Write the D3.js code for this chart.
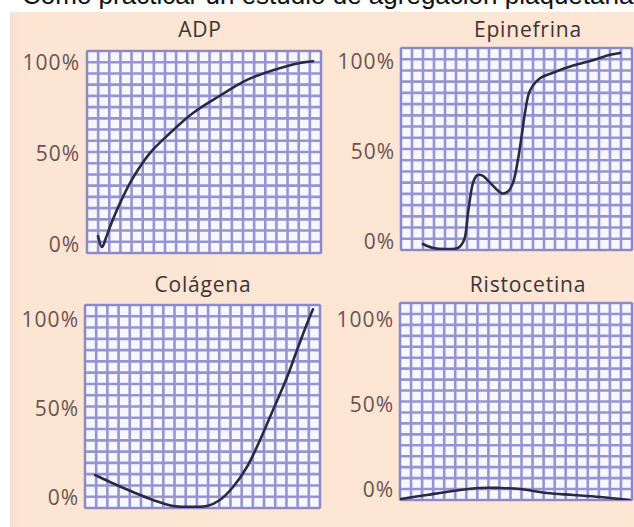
<!DOCTYPE html>
<html>
<head>
<meta charset="utf-8">
<script src="https://cdn.jsdelivr.net/npm/d3@7/dist/d3.min.js"></script>
<style>
  html, body { margin: 0; padding: 0; background: #ffffff; }
  svg { display: block; }
</style>
</head>
<body>
<svg id="chart" width="634" height="527"></svg>
<script>
// ---- data ----
const titles = ["ADP", "Epinefrina", "Colágena", "Ristocetina"];
const yTickValues = [0, 50, 100];
const yTickLabels = ["0%", "50%", "100%"];
const headerText = "Cómo practicar un estudio de agregación plaquetaria";

// x: position along the trace (0-100 of the paper width), y: aggregation %
const adpX = [4.7, 6.4, 8.1, 9.8, 14.1, 19.7, 26.9, 35.5, 45.3, 56.8, 68.4, 79.5, 91.0, 96.6];
const adpY = [4.9, -1.1, 3.8, 9.9, 23.0, 37.0, 50.5, 61.5, 72.5, 82.0, 90.7, 96.0, 100.0, 101.0];

const epiX = [9.5, 13.9, 19.9, 24.7, 27.3, 29.0, 31.2, 32.9, 35.1, 38.5, 43.7, 46.3, 48.5, 50.6, 52.4, 53.7, 55.8, 60.2, 65.8, 74.5, 83.1, 90.5, 94.8];
const epiY = [-1.1, -3.3, -3.9, -3.3, 1.1, 16.0, 33.0, 37.0, 37.0, 33.0, 27.0, 28.0, 33.0, 45.5, 60.5, 72.0, 84.0, 91.0, 94.0, 98.0, 101.0, 104.0, 105.0];

const colX = [4.3, 10.6, 20.4, 28.9, 37.4, 46.0, 51.9, 57.4, 63.0, 68.9, 74.5, 80.0, 86.0, 90.2, 94.5, 97.0];
const colY = [12.9, 9.0, 3.4, -1.1, -4.5, -4.9, -4.5, -1.1, 6.2, 17.4, 32.6, 49.4, 68.0, 83.0, 98.0, 106.0];

const risX = [0.4, 11.6, 22.8, 34.5, 43.1, 51.7, 63.4, 74.6, 86.2, 99.0];
const risY = [-5.3, -2.9, -0.6, 1.2, 1.2, 0.6, -1.8, -2.9, -4.1, -5.9];

const seriesX = [adpX, epiX, colX, risX];
const seriesY = [adpY, epiY, colY, risY];

// ---- layout ----
const panels = [
  { left: 87,  right: 321, top: 51,  bottom: 253, y0: 245, y100: 63,  tx: 200, ty: 37,  lx: 80 },
  { left: 401, right: 632, top: 48,  bottom: 250, y0: 242, y100: 62,  tx: 528, ty: 37,  lx: 395 },
  { left: 85,  right: 320, top: 305, bottom: 508, y0: 498, y100: 320, tx: 203, ty: 292, lx: 79 },
  { left: 400, right: 632, top: 303, bottom: 500, y0: 490, y100: 320, tx: 528, ty: 292, lx: 394 }
];
const COLS = 21, ROWS = 18;

const svg = d3.select("#chart");

// header line (cut off at top of the scan, as in the reference)
svg.append("text")
  .attr("x", 22).attr("y", 4)
  .attr("font-family", "Liberation Sans, Arial, sans-serif")
  .attr("font-size", 26)
  .attr("fill", "#111")
  .text(headerText);

// peach background
const defs = svg.append("defs");
const grad = defs.append("linearGradient").attr("id", "edge").attr("x1", "0").attr("x2", "1");
grad.append("stop").attr("offset", "0").attr("stop-color", "#f6e0cf");
grad.append("stop").attr("offset", "0.02").attr("stop-color", "#fde5d3");
grad.append("stop").attr("offset", "1").attr("stop-color", "#fde6d4");
svg.append("rect").attr("x", 10).attr("y", 12).attr("width", 624).attr("height", 515).attr("fill", "url(#edge)");

panels.forEach((p, i) => {
  const g = svg.append("g");
  const w = p.right - p.left, h = p.bottom - p.top;

  const x = d3.scaleLinear().domain([0, 100]).range([p.left, p.right]);
  const y = d3.scaleLinear().domain([0, 100]).range([p.y0, p.y100]);

  // graph paper
  g.append("rect").attr("x", p.left).attr("y", p.top).attr("width", w).attr("height", h).attr("fill", "#f7f7ff");
  const cw = w / COLS, ch = h / ROWS;
  g.selectAll("line.v").data(d3.range(COLS + 1)).join("line")
    .attr("x1", k => p.left + k * cw).attr("x2", k => p.left + k * cw)
    .attr("y1", p.top).attr("y2", p.bottom)
    .attr("stroke", "#9793d1")
    .attr("stroke-width", 2.6);
  g.selectAll("line.h").data(d3.range(ROWS + 1)).join("line")
    .attr("y1", k => p.top + k * ch).attr("y2", k => p.top + k * ch)
    .attr("x1", p.left).attr("x2", p.right)
    .attr("stroke", "#9793d1")
    .attr("stroke-width", 2.6);
  g.append("rect").attr("x", p.left).attr("y", p.top).attr("width", w).attr("height", h)
    .attr("fill", "none").attr("stroke", "#8a86c4").attr("stroke-width", 1.5);

  // clip
  defs.append("clipPath").attr("id", "clip" + i)
    .append("rect").attr("x", p.left).attr("y", p.top).attr("width", w).attr("height", h);

  // y axis labels
  const axis = d3.axisLeft(y).tickValues(yTickValues).tickFormat((d, k) => yTickLabels[k]).tickSize(0).tickPadding(0);
  const ag = g.append("g").attr("transform", `translate(${p.lx},0)`).call(axis);
  ag.select(".domain").remove();
  ag.selectAll("text")
    .attr("font-family", "Open Sans, sans-serif")
    .attr("font-size", 21)
    .attr("letter-spacing", 1)
    .attr("fill", "#6a5250");

  // title
  g.append("text").attr("x", p.tx).attr("y", p.ty)
    .attr("text-anchor", "middle")
    .attr("font-family", "Open Sans, sans-serif")
    .attr("font-size", 21)
    .attr("letter-spacing", 0.8)
    .attr("fill", "#3e3434")
    .text(titles[i]);

  // trace
  const pts = seriesX[i].map((v, k) => [v, seriesY[i][k]]);
  const line = d3.line().x(d => x(d[0])).y(d => y(d[1])).curve(d3.curveCatmullRom.alpha(0.5));
  g.append("path").attr("clip-path", `url(#clip${i})`)
    .attr("d", line(pts))
    .attr("fill", "none")
    .attr("stroke", "#2a2940")
    .attr("stroke-width", 2.6)
    .attr("stroke-linecap", "round")
    .attr("stroke-linejoin", "round");
});
</script>
</body>
</html>
